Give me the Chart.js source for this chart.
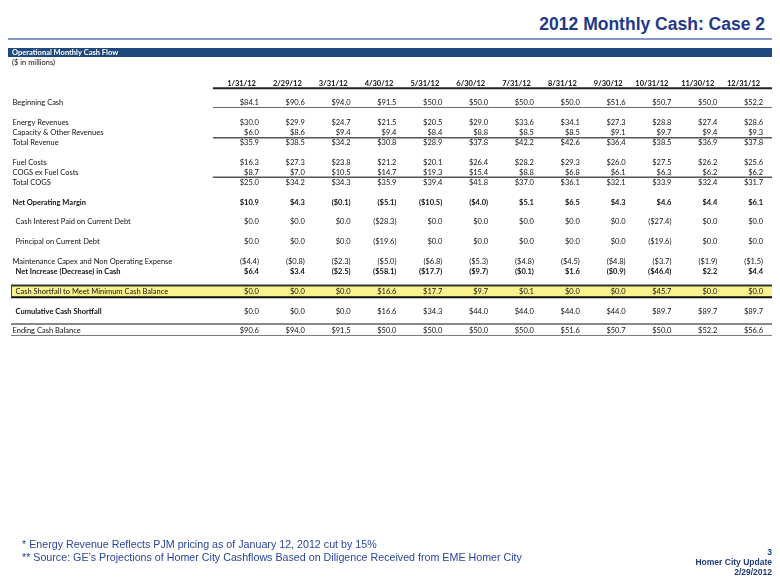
<!DOCTYPE html>
<html>
<head>
<meta charset="utf-8">
<script src="https://cdn.jsdelivr.net/npm/chart.js@4.4.1/dist/chart.umd.min.js"></script>
<style>
  body { margin: 0; background: #fff; }
  .page { position: relative; width: 780px; height: 585px; overflow: hidden; font-family: "Liberation Sans", Arial, sans-serif; }
  #cashTable { position: absolute; left: 0; top: 0; }
  .title { position: absolute; right: 15px; top: 16px; font-size: 17.5px; line-height: 1; font-weight: bold; color: #22398a; white-space: nowrap; }
  .rule { position: absolute; left: 8px; width: 764px; top: 38px; height: 2px; background: #8596c9; }
  .bar { position: absolute; left: 8px; width: 764px; top: 48px; height: 9px; background: #1f497d; }
  .notes { position: absolute; left: 22px; top: 538px; font-size: 10.7px; line-height: 13px; color: #2a45a0; white-space: nowrap; }
  .footer { position: absolute; right: 8px; top: 547px; font-size: 8.5px; line-height: 10px; font-weight: bold; color: #1f3a7a; text-align: right; }
</style>
</head>
<body>
<div class="page">
  <div class="title">2012 Monthly Cash: Case 2</div>
  <div class="rule"></div>
  <div class="bar"></div>
  <canvas id="cashTable" width="780" height="585"></canvas>
  <div class="notes">
    * Energy Revenue Reflects PJM pricing as of January 12, 2012 cut by 15%<br>
    ** Source: GE’s Projections of Homer City Cashflows Based on Diligence Received from EME Homer City
  </div>
  <div class="footer">3<br>Homer City Update<br>2/29/2012</div>
</div>
<script>
const months = ["1/31/12", "2/29/12", "3/31/12", "4/30/12", "5/31/12", "6/30/12",
  "7/31/12", "8/31/12", "9/30/12", "10/31/12", "11/30/12", "12/31/12"];

const beginningCash = [84.1, 90.6, 94.0, 91.5, 50.0, 50.0, 50.0, 50.0, 51.6, 50.7, 50.0, 52.2];
const energyRevenues = [30.0, 29.9, 24.7, 21.5, 20.5, 29.0, 33.6, 34.1, 27.3, 28.8, 27.4, 28.6];
const capacityRevenues = [6.0, 8.6, 9.4, 9.4, 8.4, 8.8, 8.5, 8.5, 9.1, 9.7, 9.4, 9.3];
const totalRevenue = [35.9, 38.5, 34.2, 30.8, 28.9, 37.8, 42.2, 42.6, 36.4, 38.5, 36.9, 37.8];
const fuelCosts = [16.3, 27.3, 23.8, 21.2, 20.1, 26.4, 28.2, 29.3, 26.0, 27.5, 26.2, 25.6];
const cogsExFuel = [8.7, 7.0, 10.5, 14.7, 19.3, 15.4, 8.8, 6.8, 6.1, 6.3, 6.2, 6.2];
const totalCogs = [25.0, 34.2, 34.3, 35.9, 39.4, 41.8, 37.0, 36.1, 32.1, 33.9, 32.4, 31.7];
const netOperatingMargin = [10.9, 4.3, -0.1, -5.1, -10.5, -4.0, 5.1, 6.5, 4.3, 4.6, 4.4, 6.1];
const cashInterest = [0.0, 0.0, 0.0, -28.3, 0.0, 0.0, 0.0, 0.0, 0.0, -27.4, 0.0, 0.0];
const principal = [0.0, 0.0, 0.0, -19.6, 0.0, 0.0, 0.0, 0.0, 0.0, -19.6, 0.0, 0.0];
const maintenanceCapex = [-4.4, -0.8, -2.3, -5.0, -6.8, -5.3, -4.8, -4.5, -4.8, -3.7, -1.9, -1.5];
const netIncrease = [6.4, 3.4, -2.5, -58.1, -17.7, -9.7, -0.1, 1.6, -0.9, -46.4, 2.2, 4.4];
const cashShortfall = [0.0, 0.0, 0.0, 16.6, 17.7, 9.7, 0.1, 0.0, 0.0, 45.7, 0.0, 0.0];
const cumulativeShortfall = [0.0, 0.0, 0.0, 16.6, 34.3, 44.0, 44.0, 44.0, 44.0, 89.7, 89.7, 89.7];
const endingCash = [90.6, 94.0, 91.5, 50.0, 50.0, 50.0, 50.0, 51.6, 50.7, 50.0, 52.2, 56.6];

// spreadsheet rows, blank strings are the spacer rows
const rowLabels = [
  "Beginning Cash", "",
  "Energy Revenues", "Capacity & Other Revenues", "Total Revenue", "",
  "Fuel Costs", "COGS ex Fuel Costs", "Total COGS", "",
  "Net Operating Margin", "",
  "Cash Interest Paid on Current Debt", "",
  "Principal on Current Debt", "",
  "Maintenance Capex and Non Operating Expense", "Net Increase (Decrease) in Cash", "",
  "Cash Shortfall to Meet Minimum Cash Balance", "",
  "Cumulative Cash Shortfall", "",
  "Ending Cash Balance"
];
const rowValues = [
  beginningCash, null,
  energyRevenues, capacityRevenues, totalRevenue, null,
  fuelCosts, cogsExFuel, totalCogs, null,
  netOperatingMargin, null,
  cashInterest, null,
  principal, null,
  maintenanceCapex, netIncrease, null,
  cashShortfall, null,
  cumulativeShortfall, null,
  endingCash
];

const FONT = 'Lato, "Open Sans", sans-serif';
const boldLabels = ["Net Operating Margin", "Net Increase (Decrease) in Cash", "Cumulative Cash Shortfall"];
const boldValues = ["Net Operating Margin", "Net Increase (Decrease) in Cash"];
const indented = ["Cash Interest Paid on Current Debt", "Principal on Current Debt",
  "Net Increase (Decrease) in Cash", "Cash Shortfall to Meet Minimum Cash Balance", "Cumulative Cash Shortfall"];

const formatMoney = (v) => v < 0 ? `($${Math.abs(v).toFixed(1)})` : `$${v.toFixed(1)}`;

const drawLine = (ctx, x1, x2, yy, width, color) => {
  ctx.save();
  ctx.strokeStyle = color;
  ctx.lineWidth = width;
  ctx.beginPath();
  ctx.moveTo(x1, yy);
  ctx.lineTo(x2, yy);
  ctx.stroke();
  ctx.restore();
};

const tablePlugin = {
  id: "cashTable",
  afterDraw(chart) {
    const { ctx, scales: { x, y }, chartArea } = chart;
    const unit = y.getPixelForValue(1) - y.getPixelForValue(0);
    const at = (slot) => y.getPixelForValue(0) + slot * unit;
    const colRight = (i) => x.getPixelForValue(i) + 12;
    const valueLeft = x.getPixelForValue(0) - 34;
    const fullLeft = 11;
    const right = chartArea.right - 2;

    // table title
    ctx.save();
    ctx.textBaseline = "middle";
    ctx.fillStyle = "#fff";
    ctx.font = `bold 7.5px ${FONT}`;
    ctx.fillText("Operational Monthly Cash Flow", 12, 52.5);
    ctx.fillStyle = "#111";
    ctx.font = `7.5px ${FONT}`;
    ctx.fillText("($ in millions)", 12, 62.5);

    // highlighted shortfall row
    const hl = rowLabels.indexOf("Cash Shortfall to Meet Minimum Cash Balance");
    ctx.fillStyle = "#f8f38c";
    ctx.fillRect(fullLeft, at(hl - 0.6), right - fullLeft, 1.2 * unit);
    drawLine(ctx, fullLeft, right, at(hl - 0.6), 2, "#333");
    drawLine(ctx, fullLeft, right, at(hl + 0.6), 2, "#111");
    ctx.strokeStyle = "#444";
    ctx.lineWidth = 1;
    ctx.beginPath();
    ctx.moveTo(fullLeft + 0.5, at(hl - 0.6));
    ctx.lineTo(fullLeft + 0.5, at(hl + 0.6));
    ctx.stroke();

    // column headers
    ctx.fillStyle = "#111";
    ctx.textAlign = "right";
    ctx.font = `bold 7.5px ${FONT}`;
    months.forEach((m, i) => ctx.fillText(m, colRight(i) - 3, at(-2)));
    drawLine(ctx, valueLeft, right, at(-1.5), 2, "#222");

    // rows
    rowLabels.forEach((label, r) => {
      if (!label) return;
      const yy = at(r);
      ctx.textAlign = "left";
      ctx.font = `${boldLabels.includes(label) ? "bold " : ""}7.5px ${FONT}`;
      ctx.fillText(label, indented.includes(label) ? 15.5 : 12.5, yy);
      ctx.textAlign = "right";
      ctx.font = `${boldValues.includes(label) ? "bold " : ""}7.5px ${FONT}`;
      rowValues[r].forEach((v, i) => ctx.fillText(formatMoney(v), colRight(i), yy));
    });
    ctx.restore();

    // rules
    drawLine(ctx, valueLeft, right, at(rowLabels.indexOf("Beginning Cash") + 0.45), 1, "#666");
    drawLine(ctx, valueLeft, right, at(rowLabels.indexOf("Capacity & Other Revenues") + 0.5), 1.5, "#555");
    drawLine(ctx, valueLeft, right, at(rowLabels.indexOf("COGS ex Fuel Costs") + 0.5), 1.5, "#555");
    const end = rowLabels.indexOf("Ending Cash Balance");
    drawLine(ctx, fullLeft, right, at(end - 0.7), 2, "#888");
    drawLine(ctx, fullLeft, right, at(end + 0.45), 1, "#777");
  }
};

const chartElementContext = document.getElementById("cashTable").getContext("2d");

const cashChart = new Chart(chartElementContext, {
  type: "line",
  data: {
    labels: months,
    yLabels: rowLabels,
    datasets: [],
  },
  options: {
    responsive: false,
    animation: false,
    devicePixelRatio: 1,
    layout: {
      padding: { left: 224, top: 103, right: 6, bottom: 254 },
    },
    plugins: {
      legend: { display: false },
      tooltip: { enabled: false },
    },
    scales: {
      x: { type: "category", display: false, offset: true },
      y: { type: "category", display: false, offset: false },
    },
  },
  plugins: [tablePlugin],
});
</script>
</body>
</html>
